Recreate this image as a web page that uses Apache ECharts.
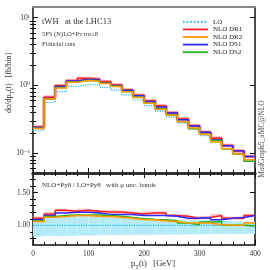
<!DOCTYPE html>
<html><head><meta charset="utf-8">
<script src="https://cdn.jsdelivr.net/npm/echarts@6/dist/echarts.min.js"></script>
<style>html,body{margin:0;padding:0;background:#fff}#c{width:270px;height:270px}</style>
</head><body><div id="c"></div>
<script>
// ---- data ----
const edges = [0,20,40,60,80,100,120,140,160,180,200,220,240,260,280,300,320,340,360,380,400];
const xMajorTicks = [0,100,200,300,400];
const xMinorTicks = [20,40,60,80,120,140,160,180,220,240,260,280,320,340,360,380];
const logMajorTicks = [0.1,1,10];
const logMinorTicks = [0.06,0.07,0.08,0.09,0.2,0.3,0.4,0.5,0.6,0.7,0.8,0.9,2,3,4,5,6,7,8,9];
const ratioMajorTicks = [1.0,1.5];
const ratioMinorTicks = [0.8,0.9,1.1,1.2,1.3,1.4,1.6,1.7];

const LO    = [0.219,0.56,0.81,0.97,1.03,1.015,0.94,0.855,0.727,0.61,0.505,0.418,0.343,0.28,0.228,0.182,0.145,0.116,0.097,0.077];
const NLO_DR1 = [0.244,0.67,0.99,1.17,1.27,1.24,1.13,1.02,0.86,0.715,0.59,0.496,0.396,0.32,0.255,0.204,0.166,0.13,0.108,0.089];
const NLO_DR2 = [0.232,0.63,0.919,1.116,1.185,1.157,1.067,0.962,0.807,0.665,0.548,0.447,0.364,0.29,0.236,0.188,0.146,0.116,0.097,0.080];
const NLO_DS1 = [0.239,0.644,0.964,1.164,1.236,1.208,1.095,0.996,0.847,0.702,0.581,0.481,0.391,0.311,0.253,0.204,0.157,0.129,0.109,0.089];
const NLO_DS2 = [0.234,0.636,0.932,1.125,1.195,1.177,1.081,0.975,0.814,0.671,0.550,0.454,0.367,0.290,0.230,0.191,0.154,0.116,0.097,0.076];

const rLO  = [1,1,1,1,1,1,1,1,1,1,1,1,1,1,1,1,1,1,1,1];
const rDR1 = [1.11,1.175,1.23,1.215,1.23,1.215,1.205,1.205,1.19,1.175,1.19,1.19,1.15,1.14,1.11,1.12,1.15,1.11,1.11,1.15];
const rDR2 = [1.06,1.125,1.135,1.15,1.15,1.14,1.135,1.125,1.11,1.09,1.085,1.07,1.06,1.035,1.035,1.035,1.01,1.0,1.0,1.035];
const rDS1 = [1.09,1.15,1.19,1.20,1.20,1.19,1.165,1.165,1.165,1.15,1.15,1.15,1.14,1.11,1.11,1.12,1.085,1.11,1.12,1.15];
const rDS2 = [1.07,1.135,1.15,1.16,1.16,1.16,1.15,1.14,1.12,1.10,1.09,1.085,1.07,1.035,1.01,1.05,1.06,1.0,1.0,0.99];

const bandLOhi  = [1.08,1.11,1.14,1.14,1.14,1.14,1.13,1.13,1.12,1.12,1.11,1.10,1.09,1.09,1.08,1.08,1.07,1.07,1.06,1.06];
const bandLOlo  = [0.83,0.84,0.84,0.84,0.845,0.845,0.85,0.85,0.85,0.855,0.855,0.86,0.86,0.86,0.865,0.865,0.87,0.87,0.87,0.87];
const bandDR1hi = [1.135,1.20,1.255,1.24,1.255,1.24,1.23,1.23,1.215,1.20,1.215,1.215,1.175,1.165,1.135,1.145,1.175,1.135,1.135,1.175];
const bandDR1lo = [1.085,1.15,1.205,1.19,1.205,1.19,1.18,1.18,1.165,1.15,1.165,1.165,1.125,1.115,1.085,1.095,1.125,1.085,1.085,1.125];
const bandDR2hi = [1.075,1.14,1.15,1.165,1.165,1.155,1.15,1.14,1.125,1.105,1.10,1.085,1.075,1.05,1.05,1.05,1.025,1.015,1.015,1.05];
const bandDR2lo = [1.045,1.11,1.12,1.135,1.135,1.125,1.12,1.11,1.095,1.075,1.07,1.055,1.045,1.02,1.02,1.02,0.995,0.985,0.985,1.02];

// ---- helpers ----
function steps(vals){ const p = vals.map((v,i)=>[edges[i],v]); p.push([edges[edges.length-1], vals[vals.length-1]]); return p; }
function bands(lo,hi){ return lo.map((l,i)=>[edges[i],edges[i+1],l,hi[i]]); }
const FONT = '"Liberation Serif","DejaVu Serif",serif';
const C = {LO:'#1fb8ea', DR1:'#ff1f1f', DR1h:'#ff9a9a', DR2:'#ff9a00', DS1:'#2a2aff', DS2:'#22b022'};

function lineS(name, data, color, xi, yi, extra){
  return Object.assign({type:'line', name, data:steps(data), step:'end', symbol:'none', xAxisIndex:xi, yAxisIndex:yi,
    lineStyle:{color, width:1.5}, itemStyle:{color}, animation:false, silent:true}, extra||{});
}
function bandS(name, lo, hi, color){
  return {type:'custom', name, xAxisIndex:3, yAxisIndex:4, data:bands(lo,hi), encode:{x:[0,1], y:[2,3]}, silent:true, animation:false, z:1,
    renderItem:(params, api)=>{
      const a = api.coord([api.value(0), api.value(3)]);
      const b = api.coord([api.value(1), api.value(2)]);
      return {type:'rect', shape:{x:a[0], y:a[1], width:b[0]-a[0], height:b[1]-a[1]}, style:{fill:color}};
    }};
}
function xAx(grid, pos, opts){
  return Object.assign({type:'value', gridIndex:grid, position:pos, min:0, max:400, splitLine:{show:false},
    axisLabel:{show:false}, axisLine:{show:false}, axisTick:{show:false}}, opts);
}
function yAx(grid, pos, base, opts){
  return Object.assign({gridIndex:grid, position:pos, splitLine:{show:false},
    axisLabel:{show:false}, axisLine:{show:false}, axisTick:{show:false}}, base, opts);
}
const logBase = {type:'log', logBase:10, min:0.051, max:14.4};
const ratBase = {type:'value', min:0.7, max:1.8};
const tickStyle = {color:'#111', width:1};
const sup = {'1':'¹','0':'⁰','-1':'⁻¹'};

const option = {
  animation:false,
  grid:[{left:33, right:15, top:7, height:166}, {left:33, right:15, top:173, height:72}],
  xAxis:[
    xAx(0,'bottom',{axisLine:{show:true, onZero:false, lineStyle:{color:'#333', width:3}}, axisTick:{show:true, inside:true, length:5, customValues:xMajorTicks, lineStyle:tickStyle}}),
    xAx(0,'bottom',{axisTick:{show:true, inside:true, length:3, customValues:xMinorTicks, lineStyle:tickStyle}}),
    xAx(0,'top',{axisLine:{show:true, onZero:false, lineStyle:{color:'#8a8a8a', width:2}}}),
    xAx(1,'bottom',{axisLine:{show:true, onZero:false, lineStyle:{color:'#111', width:1.5}}, axisTick:{show:true, inside:true, length:5, customValues:xMajorTicks, lineStyle:tickStyle},
      axisLabel:{show:true, customValues:xMajorTicks, fontFamily:FONT, fontSize:7.5, color:'#333', margin:5}}),
    xAx(1,'bottom',{axisTick:{show:true, inside:true, length:3, customValues:xMinorTicks, lineStyle:tickStyle}}),
    xAx(1,'top',{axisLine:{show:true, onZero:false, lineStyle:{color:'#333', width:3}}, axisTick:{show:true, inside:true, length:5, customValues:xMajorTicks, lineStyle:tickStyle}}),
    xAx(1,'top',{axisTick:{show:true, inside:true, length:3, customValues:xMinorTicks, lineStyle:tickStyle}})
  ],
  yAxis:[
    yAx(0,'left',logBase,{axisLine:{show:true, onZero:false, lineStyle:{color:'#111', width:1.5}}, axisTick:{show:true, inside:true, length:5, customValues:logMajorTicks, lineStyle:tickStyle},
      axisLabel:{show:true, customValues:logMajorTicks, fontFamily:FONT, fontSize:7.5, color:'#333', margin:3,
        formatter:v=>'10'+sup[String(Math.round(Math.log10(v)))]}}),
    yAx(0,'left',logBase,{axisTick:{show:true, inside:true, length:3, customValues:logMinorTicks, lineStyle:tickStyle}}),
    yAx(0,'right',logBase,{axisLine:{show:true, onZero:false, lineStyle:{color:'#111', width:1.5}}, axisTick:{show:true, inside:true, length:5, customValues:logMajorTicks, lineStyle:tickStyle}}),
    yAx(0,'right',logBase,{axisTick:{show:true, inside:true, length:3, customValues:logMinorTicks, lineStyle:tickStyle}}),
    yAx(1,'left',ratBase,{axisLine:{show:true, onZero:false, lineStyle:{color:'#111', width:1.5}}, axisTick:{show:true, inside:true, length:5, customValues:ratioMajorTicks, lineStyle:tickStyle},
      axisLabel:{show:true, customValues:ratioMajorTicks, fontFamily:FONT, fontSize:7.5, color:'#333', margin:3, formatter:v=>v.toFixed(2)}}),
    yAx(1,'left',ratBase,{axisTick:{show:true, inside:true, length:3, customValues:ratioMinorTicks, lineStyle:tickStyle}}),
    yAx(1,'right',ratBase,{axisLine:{show:true, onZero:false, lineStyle:{color:'#111', width:1.5}}, axisTick:{show:true, inside:true, length:5, customValues:ratioMajorTicks, lineStyle:tickStyle}}),
    yAx(1,'right',ratBase,{axisTick:{show:true, inside:true, length:3, customValues:ratioMinorTicks, lineStyle:tickStyle}})
  ],
  legend:{
    data:['LO','NLO DR1','NLO DR2','NLO DS1','NLO DS2'], orient:'vertical', left:182, top:18, padding:0,
    itemWidth:25, itemHeight:7.6, itemGap:0, selectedMode:false,
    itemStyle:{opacity:0, borderWidth:0},
    lineStyle:{width:1.8},
    textStyle:{fontFamily:FONT, fontSize:7, color:'#222', lineHeight:7.6}
  },
  series:[
    lineS('LO', LO, C.LO, 0, 0, {lineStyle:{color:C.LO, width:1.2, type:'dotted'}}),
    lineS('DR1 halo', NLO_DR1, C.DR1h, 0, 0, {lineStyle:{color:C.DR1h, width:3.5}}),
    lineS('NLO DR1', NLO_DR1, C.DR1, 0, 0),
    lineS('NLO DS1', NLO_DS1, C.DS1, 0, 0),
    lineS('NLO DS2', NLO_DS2, C.DS2, 0, 0),
    lineS('NLO DR2', NLO_DR2, C.DR2, 0, 0),
    bandS('LO band', bandLOlo, bandLOhi, '#b5eaf8'),
    bandS('DR2 band', bandDR2lo, bandDR2hi, 'rgba(255,200,120,0.55)'),
    bandS('DR1 band', bandDR1lo, bandDR1hi, 'rgba(255,150,150,0.6)'),
    lineS('LO', rLO, C.LO, 3, 4, {lineStyle:{color:C.LO, width:1.2, type:'dotted'}}),
    lineS('NLO DR1', rDR1, C.DR1, 3, 4),
    lineS('NLO DS1', rDS1, C.DS1, 3, 4),
    lineS('NLO DS2', rDS2, C.DS2, 3, 4),
    lineS('NLO DR2', rDR2, C.DR2, 3, 4)
  ],
  graphic:[
    {type:'text', left:42, top:17, style:{text:'tWH   at the LHC13', font:'8.5px '+FONT, fill:'#333'}},
    {type:'text', left:42, top:30.5, style:{text:'5FS (N)LO+Pythia8', font:'small-caps 6.5px '+FONT, fill:'#333'}},
    {type:'text', left:42, top:40.5, style:{text:'Fiducial cuts', font:'6.5px '+FONT, fill:'#333'}},
    {type:'text', left:42, top:182, style:{text:'NLO+Py8 / LO+Py8   with μ unc. bands', font:'7px '+FONT, fill:'#333'}},
    {type:'text', x:9, y:83, rotation:Math.PI/2, style:{text:'{a|dσ/dp}{b|T}{a|(t)   [fb/bin]}', align:'center', verticalAlign:'middle',
      rich:{a:{fontFamily:FONT, fontSize:8, lineHeight:12, fill:'#333'}, b:{fontFamily:FONT, fontSize:6, lineHeight:12, verticalAlign:'bottom', fill:'#333'}}}},
    {type:'text', x:153, y:264, style:{text:'{a|p}{b|T}{a|(t)   [GeV]}', align:'center', verticalAlign:'middle',
      rich:{a:{fontFamily:FONT, fontSize:8.5, lineHeight:12, fill:'#333'}, b:{fontFamily:FONT, fontSize:6, lineHeight:12, verticalAlign:'bottom', fill:'#333'}}}},
    {type:'text', x:262, y:139, rotation:Math.PI/2, style:{text:'MadGraph5_aMC@NLO', align:'center', verticalAlign:'middle', font:'7.5px '+FONT, fill:'#555'}}
  ]
};
echarts.init(document.getElementById('c'), null, {renderer:'canvas'}).setOption(option);
</script></body></html>
